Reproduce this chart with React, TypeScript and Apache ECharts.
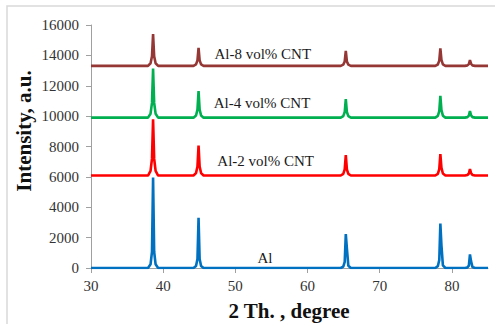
import React, { useEffect, useRef } from "react";
import * as echarts from "echarts";

// 2θ sample positions (degrees)
const twoTheta = [
  30,
  37.9, 38.25, 38.45, 38.6, 38.75, 38.95, 39.3,
  44.2, 44.55, 44.75, 44.9, 45.05, 45.25, 45.6,
  64.6, 64.95, 65.15, 65.3, 65.45, 65.65, 66.0,
  77.7, 78.05, 78.25, 78.4, 78.55, 78.75, 79.1,
  81.8, 82.15, 82.35, 82.5, 82.65, 82.85, 83.2,
  85,
];

const alValues = [
  0,
  0, 240, 1070, 5950, 1070, 240, 0,
  0, 130, 590, 3300, 590, 130, 0,
  0, 90, 400, 2230, 1300, 150, 0,
  0, 120, 530, 2930, 1500, 170, 0,
  0, 40, 160, 900, 450, 60, 0,
  0,
];

const al2Values = [
  6090,
  6090, 6390, 7200, 9800, 7200, 6390, 6090,
  6090, 6250, 6680, 8060, 6680, 6250, 6090,
  6090, 6200, 6490, 7430, 6490, 6200, 6090,
  6090, 6200, 6510, 7500, 6600, 6220, 6090,
  6090, 6125, 6220, 6520, 6260, 6125, 6090,
  6090,
];

const al4Values = [
  9900,
  9900, 10160, 10870, 13140, 10870, 10160, 9900,
  9900, 10040, 10430, 11650, 10430, 10040, 9900,
  9900, 10000, 10270, 11120, 10270, 10000, 9900,
  9900, 10015, 10330, 11340, 10400, 10030, 9900,
  9900, 9935, 10030, 10330, 10060, 9935, 9900,
  9900,
];

const al8Values = [
  13310,
  13310, 13480, 13940, 15400, 13940, 13480, 13310,
  13310, 13405, 13670, 14500, 13670, 13405, 13310,
  13310, 13390, 13600, 14290, 13600, 13390, 13310,
  13310, 13400, 13655, 14460, 13700, 13410, 13310,
  13310, 13340, 13425, 13690, 13450, 13340, 13310,
  13310,
];

const seriesNames = ["Al", "Al-2 vol% CNT", "Al-4 vol% CNT", "Al-8 vol% CNT"];
const seriesColors = ["#0070C0", "#FF0000", "#00B050", "#953735"];
// label anchor (left edge, vertical middle) in data coordinates
const labelX = [53.05, 47.5, 47.0, 47.1];
const labelY = [640, 7030, 10860, 14090];

const xTicks = [30, 40, 50, 60, 70, 80];
const yTicks = [0, 2000, 4000, 6000, 8000, 10000, 12000, 14000, 16000];

const xTitle = "2 Th. , degree";
const yTitle = "Intensity, a.u.";

const serif = "Liberation Serif";

export default function App() {
  const ref = useRef<HTMLDivElement>(null);

  useEffect(() => {
    document.body.style.margin = "0";
    const chart = echarts.init(ref.current!, null, { renderer: "svg" });
    const valueSets = [alValues, al2Values, al4Values, al8Values];
    const axisColor = "#a0a0a0";

    chart.setOption({
      animation: false,
      grid: { left: 91, right: 7, top: 25, bottom: 56 },
      xAxis: {
        type: "value",
        min: 30,
        max: 85,
        interval: 10,
        axisLine: { show: true, lineStyle: { color: axisColor, width: 1 } },
        axisTick: {
          show: true,
          length: 5,
          customValues: xTicks,
          lineStyle: { color: axisColor },
        },
        axisLabel: {
          customValues: xTicks,
          formatter: (v: number) => String(v),
          fontFamily: serif,
          fontSize: 15,
          color: "#333333",
          margin: 10,
        },
        splitLine: { show: false },
      },
      yAxis: {
        type: "value",
        min: 0,
        max: 16000,
        interval: 2000,
        axisLine: { show: true, lineStyle: { color: axisColor, width: 1 } },
        axisTick: {
          show: true,
          length: 5,
          customValues: yTicks,
          lineStyle: { color: axisColor },
        },
        axisLabel: {
          customValues: yTicks,
          formatter: (v: number) => String(v),
          fontFamily: serif,
          fontSize: 15,
          color: "#333333",
          margin: 12,
        },
        splitLine: { show: false },
      },
      series: valueSets.map((vals, i) => ({
        type: "line",
        name: seriesNames[i],
        data: twoTheta.map((x, j) => [x, vals[j]]),
        symbol: "none",
        showSymbol: false,
        lineStyle: { color: seriesColors[i], width: 2.6 },
        itemStyle: { color: seriesColors[i] },
        z: 2 + i,
      })),
    });

    const labelGraphics = seriesNames.map((name, i) => {
      const p = chart.convertToPixel({ gridIndex: 0 }, [labelX[i], labelY[i]]) as number[];
      return {
        type: "text",
        x: p[0],
        y: p[1],
        z: 10,
        style: {
          text: name,
          fontFamily: serif,
          fontSize: 15,
          fill: "#1a1a1a",
          textAlign: "left",
          textVerticalAlign: "middle",
        },
      };
    });

    chart.setOption({
      graphic: [
        {
          type: "rect",
          shape: { x: 7, y: 6, width: 500, height: 340 },
          style: { fill: "none", stroke: "#d9d9d9", lineWidth: 1.5 },
          z: 0,
        },
        ...labelGraphics,
        {
          type: "text",
          x: 289,
          y: 311,
          style: {
            text: xTitle,
            fontFamily: serif,
            fontSize: 21,
            fontWeight: "bold",
            fill: "#111",
            textAlign: "center",
            textVerticalAlign: "middle",
          },
        },
        {
          type: "text",
          x: 24,
          y: 131,
          rotation: Math.PI / 2,
          style: {
            text: yTitle,
            fontFamily: serif,
            fontSize: 21,
            fontWeight: "bold",
            fill: "#111",
            textAlign: "center",
            textVerticalAlign: "middle",
          },
        },
      ],
    });

    return () => chart.dispose();
  }, []);

  return <div ref={ref} style={{ width: 495, height: 324 }} />;
}
